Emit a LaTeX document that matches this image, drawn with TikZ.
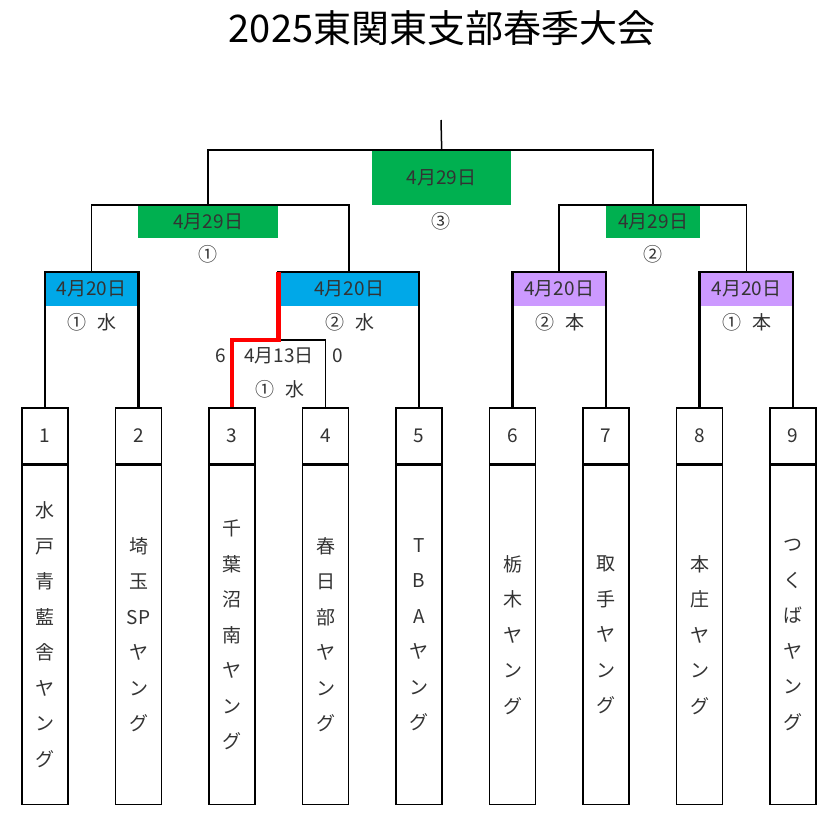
\documentclass[tikz,border=0pt]{standalone}
\usepackage{fontspec}
\setmainfont{Noto Sans CJK JP}
\definecolor{xgreen}{HTML}{00B050}
\definecolor{xblue}{HTML}{00A8E8}
\definecolor{xpurple}{HTML}{CC99FF}
\definecolor{txt}{HTML}{333333}
\begin{document}
\begin{tikzpicture}[x=1pt,y=-1pt,
  numcell/.style={draw=black,line width=1.6pt,minimum width=46pt,minimum height=56pt,inner sep=0pt,anchor=north,text=txt,font=\fontsize{19}{22}\selectfont},
  namecell/.style={draw=black,line width=1.6pt,minimum width=46pt,minimum height=339pt,inner sep=0pt,anchor=north,text=txt,align=center,font=\fontsize{19}{35.5}\selectfont},
  hdr/.style={minimum height=34pt,inner sep=0pt,anchor=north west,text=txt,font=\fontsize{19}{22}\selectfont},
  lbl/.style={text=txt,inner sep=0pt,font=\fontsize{19}{22}\selectfont},
  conn/.style={line width=1.5pt,black},
  thickconn/.style={line width=2.2pt,black},
  winner/.style={line width=4.5pt,red}]
\useasboundingbox (0,0) rectangle (829,817);
\node[font=\fontsize{38}{41}\selectfont,inner sep=0pt] (title) at (442,28) {2025東関東支部春季大会};
% team boxes
\foreach \i/\nm in {1/{水\\戸\\青\\藍\\舎\\ヤ\\ン\\グ},2/{埼\\玉\\SP\\ヤ\\ン\\グ},3/{千\\葉\\沼\\南\\ヤ\\ン\\グ},4/{春\\日\\部\\ヤ\\ン\\グ},5/{T\\B\\A\\ヤ\\ン\\グ},6/{栃\\木\\ヤ\\ン\\グ},7/{取\\手\\ヤ\\ン\\グ},8/{本\\庄\\ヤ\\ン\\グ},9/{つ\\く\\ば\\ヤ\\ン\\グ}}{
  \node[numcell] (n\i) at ({45+93.5*(\i-1)},407) {\i};
  \node[namecell] (m\i) at (n\i.south) {\nm};
}
% round headers
\node[hdr,fill=xblue,minimum width=93pt] (r1) at (45,272) {4月20日};
\node[hdr,fill=xblue,minimum width=140pt] (r3) at (279,272) {4月20日};
\node[hdr,fill=xpurple,minimum width=93pt] (p1) at (512.5,272) {4月20日};
\node[hdr,fill=xpurple,minimum width=93.5pt] (p2) at (699.5,272) {4月20日};
\node[hdr,fill=xgreen,minimum width=140pt,minimum height=33pt] (g1) at (138,205) {4月29日};
\node[hdr,fill=xgreen,minimum width=94pt,minimum height=33pt] (g2) at (606,205) {4月29日};
\node[hdr,fill=xgreen,minimum width=139pt,minimum height=55pt] (f) at (372,150) {4月29日};
\coordinate (q) at (278.5,340);
\coordinate (top) at (441,120);
% labels
\node[lbl] (l1) at (92,322) {①\hspace{0.6em}水};
\node[lbl] (l3) at (350,322) {②\hspace{0.6em}水};
\node[lbl] (l6) at (560,322) {②\hspace{0.6em}本};
\node[lbl] (l8) at (747,322) {①\hspace{0.6em}本};
\node[lbl] (d2) at (279,356) {4月13日};
\node[lbl] (s3) at (221,356) {6};
\node[lbl] (s4) at (338,356) {0};
\node[lbl] (l2) at (280,389) {①\hspace{0.6em}水};
\node[lbl] (c1) at (208,254) {①};
\node[lbl] (c2) at (653,254) {②};
\node[lbl] (c3) at (441,221) {③};
% connectors
\draw[thickconn] (n1.north) |- (r1.north) -| (n2.north);
\draw[conn] (n3.north) |- (q) -| (n4.north);
\draw[thickconn] (q) |- (r3.north) -| (n5.north);
\draw[thickconn] (n6.north) |- (p1.north) -| (n7.north);
\draw[thickconn] (n8.north) |- (p2.north) -| (n9.north);
\draw[conn] (r1.north) |- (g1.north) -| (r3.north);
\draw[conn] (p1.north) |- (g2.north) -| (p2.north);
\draw[thickconn] (g1.north) |- (f.north) -| (g2.north);
\draw[conn] (f.north) -- (top);
\draw[winner] (n3.north) |- (q) -- (q |- r3.north);
\end{tikzpicture}
\end{document}
